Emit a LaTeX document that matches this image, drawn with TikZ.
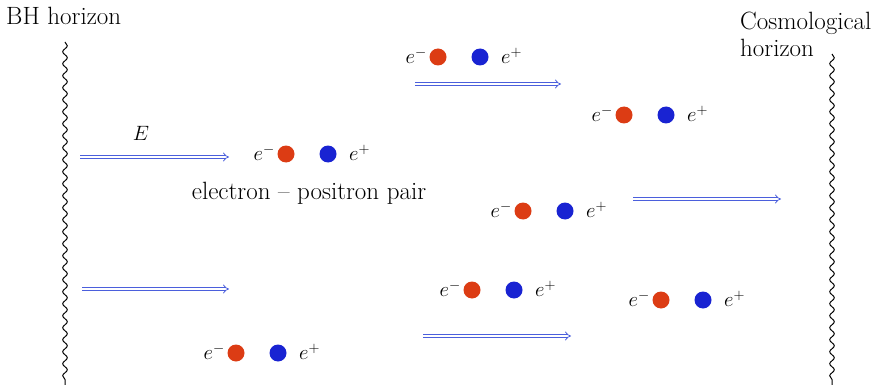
\documentclass[tikz,border=0pt]{standalone}
\usetikzlibrary{arrows.meta,decorations.pathmorphing}
\definecolor{ered}{RGB}{220,60,20}
\definecolor{pblue}{RGB}{25,35,210}
\definecolor{arrblue}{RGB}{75,95,220}
\tikzset{
  horizon/.style={line width=1pt, decorate, decoration={snake, segment length=12pt, amplitude=2.3pt}},
  field/.style={arrblue, line width=0.8pt, double, double distance=2.2pt, -{Implies}},
  edot/.style={circle, fill=ered, inner sep=0pt, minimum size=17pt},
  pdot/.style={circle, fill=pblue, inner sep=0pt, minimum size=17pt},
  lbl/.style={inner sep=0pt, font=\fontsize{25}{29}\selectfont},
  mlbl/.style={inner sep=0pt, font=\fontsize{21}{24}\selectfont},
}
\newcommand{\pairat}[3]{%
  \node[edot] (#1r) at (#2,#3) {};
  \node[pdot] (#1b) at (#2+42,#3) {};
  \node[mlbl, anchor=east] (#1m) at (#2-11,#3-1) {$e^-$};
  \node[mlbl, anchor=west] (#1p) at (#2+63,#3-1) {$e^+$};
}
\begin{document}
\begin{tikzpicture}[x=1pt,y=-1pt]
\useasboundingbox (0,0) rectangle (883,385);
% horizons
\coordinate (bhT) at (65,42);
\coordinate (bhB) at (65,385);
\coordinate (coT) at (832,54);
\coordinate (coB) at (832,385);
\draw[horizon] (bhT) -- (bhB);
\draw[horizon] (coT) -- (coB);
\node[lbl, anchor=base west] (bhl) at (6,25) {BH horizon};
\node[lbl, anchor=base west] (col1) at (740,30) {Cosmological};
\node[lbl, anchor=base west] (col2) at (740,57) {horizon};
% arrows
\coordinate (a1s) at (80,157); \coordinate (a1e) at (229,157);
\coordinate (a2s) at (415,84); \coordinate (a2e) at (561,84);
\coordinate (a3s) at (633,199); \coordinate (a3e) at (781,199);
\coordinate (a4s) at (82,289); \coordinate (a4e) at (229,289);
\coordinate (a5s) at (423,336); \coordinate (a5e) at (571,336);
\draw[field] (a1s) -- (a1e);
\draw[field] (a2s) -- (a2e);
\draw[field] (a3s) -- (a3e);
\draw[field] (a4s) -- (a4e);
\draw[field] (a5s) -- (a5e);
\node[mlbl] (E) at (141,133) {$E$};
% pairs
\pairat{p1}{286}{154}
\pairat{p2}{438}{57}
\pairat{p3}{624}{115}
\pairat{p4}{523}{211}
\pairat{p5}{472}{290}
\pairat{p6}{661}{300}
\pairat{p7}{236}{353}
\node[lbl] (pairlbl) at (309,193) {electron -- positron pair};
\end{tikzpicture}
\end{document}
